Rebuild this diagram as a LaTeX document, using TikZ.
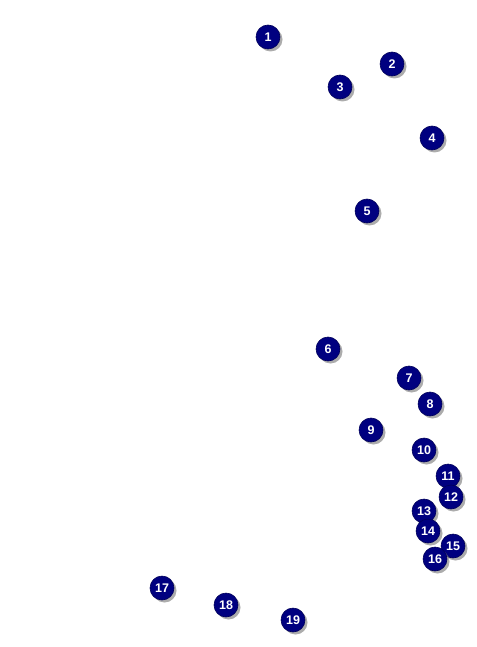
\documentclass[tikz,border=0pt]{standalone}
\usepackage{fontspec}
\setmainfont{Liberation Sans}
\usepackage{tikz}
\usetikzlibrary{shadows}
\definecolor{markblue}{RGB}{0,0,128}
\definecolor{markedge}{RGB}{0,0,90}
\tikzset{
  marker/.style={circle, fill=markblue, draw=markedge, line width=0.6pt,
    minimum size=24pt, inner sep=0pt, text=white,
    font=\fontsize{12.5}{14}\selectfont\bfseries,
    drop shadow={shadow xshift=2.5pt, shadow yshift=-2.5pt, fill=black!50, opacity=0.65}}
}
\begin{document}
\begin{tikzpicture}[x=1pt, y=-1pt]
\useasboundingbox (0,0) rectangle (476,647);

% numbered markers, placed at their pixel positions
\foreach \n/\px/\py in {1/268/37, 2/392/64, 3/340/87, 4/432/138, 5/367/211,
    6/328/349, 7/409/378, 8/430/404, 9/371/430, 10/424/450,
    11/448/476, 12/451/497, 13/424/511, 14/428/531, 15/453/546,
    16/435/559, 17/162/588, 18/226/605, 19/293/620}
  \node[marker] (m\n) at (\px,\py) {\n};

\end{tikzpicture}
\end{document}
